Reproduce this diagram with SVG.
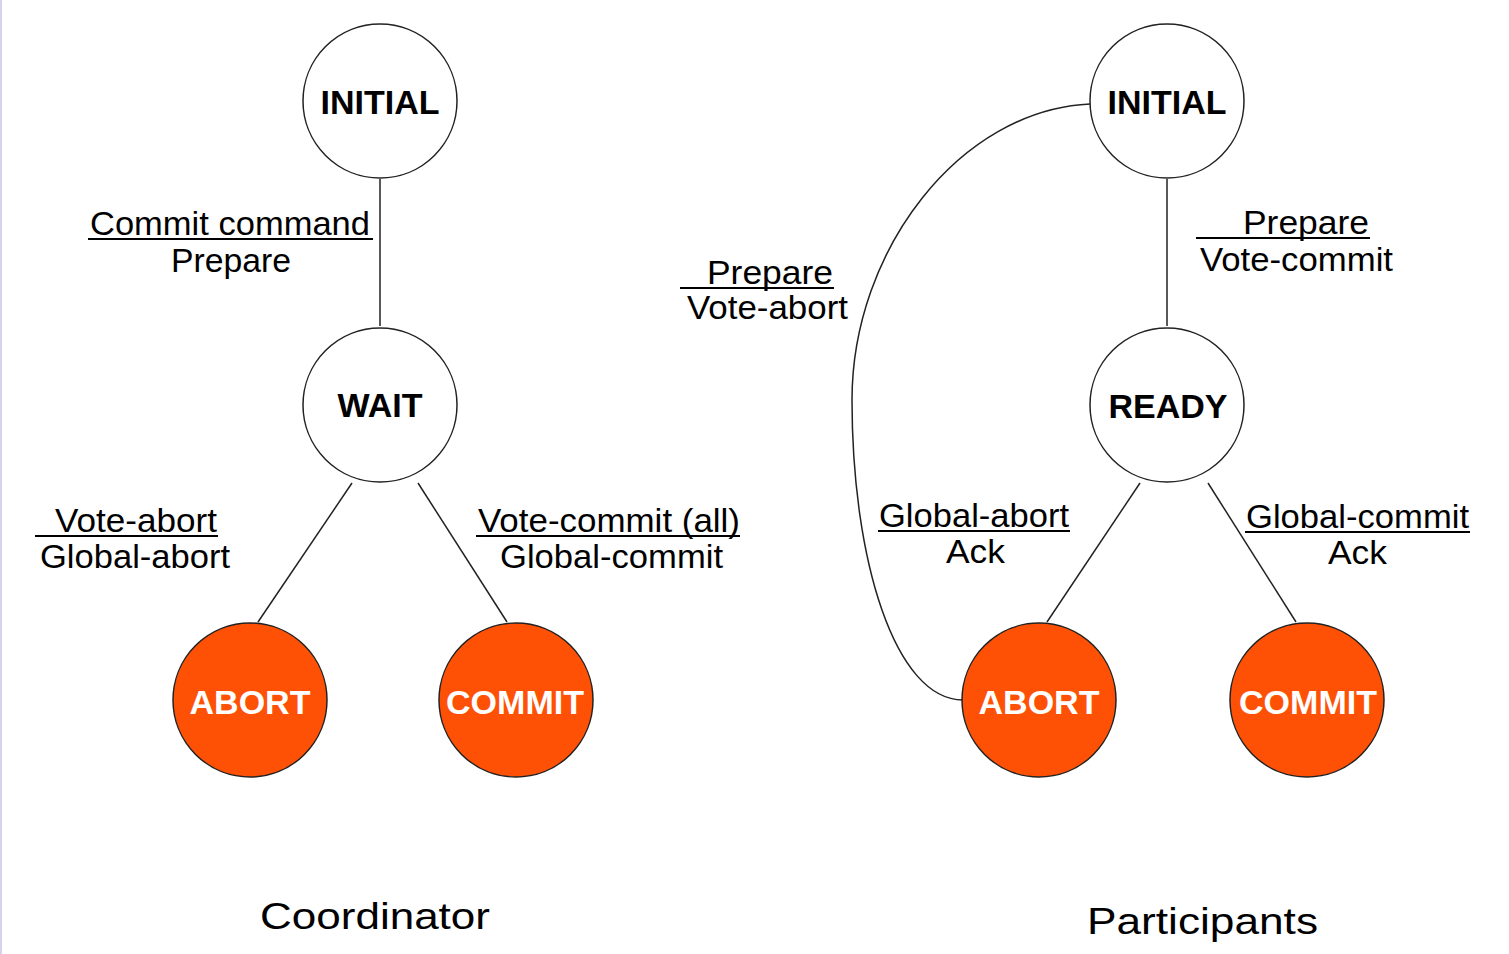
<svg xmlns="http://www.w3.org/2000/svg" width="1509" height="954" viewBox="0 0 1509 954">
<style>
.st{fill:#fff;stroke:#222;stroke-width:1.5}
.fin{fill:#FE5106;stroke:#222;stroke-width:1.5}
.nt{font-family:"Liberation Sans",Arial,sans-serif;font-weight:bold;font-size:34px;text-anchor:middle;fill:#000}
.ft{font-family:"Liberation Sans",Arial,sans-serif;font-weight:bold;font-size:34px;text-anchor:middle;fill:#fff}
.lb{font-family:"Liberation Sans",Arial,sans-serif;font-size:33px;fill:#000}
.tt{font-family:"Liberation Sans",Arial,sans-serif;font-size:37px;fill:#000}
.ul{stroke:#000;stroke-width:2}
.cn{fill:none;stroke:#222;stroke-width:1.5}
</style>
<rect x="0" y="0" width="1509" height="954" fill="#fff"/>
<rect x="0" y="0" width="2" height="954" fill="#d4d4ee"/>
<g id="connectors">
<line class="cn" x1="380" y1="179" x2="380" y2="326"/>
<line class="cn" x1="352" y1="483" x2="258" y2="622"/>
<line class="cn" x1="418" y1="483" x2="507" y2="622"/>
<line class="cn" x1="1167" y1="179" x2="1167" y2="326"/>
<line class="cn" x1="1140" y1="483" x2="1047" y2="622"/>
<line class="cn" x1="1208" y1="483" x2="1296" y2="622"/>
<path class="cn" d="M1090,104 C960,110 852,250 852,400 C852,560 895,700 963,700"/>
</g>
<g id="labels">
<text class="lb" x="90" y="235" textLength="280" lengthAdjust="spacingAndGlyphs">Commit command</text>
<line class="ul" x1="88" y1="239" x2="373" y2="239"/>
<text class="lb" x="171" y="272" textLength="120" lengthAdjust="spacingAndGlyphs">Prepare</text>
<text class="lb" x="55" y="532" textLength="162" lengthAdjust="spacingAndGlyphs">Vote-abort</text>
<line class="ul" x1="35" y1="536" x2="218" y2="536"/>
<text class="lb" x="40" y="568" textLength="190" lengthAdjust="spacingAndGlyphs">Global-abort</text>
<text class="lb" x="478" y="532" textLength="262" lengthAdjust="spacingAndGlyphs">Vote-commit (all)</text>
<line class="ul" x1="476" y1="536" x2="740" y2="536"/>
<text class="lb" x="500" y="568" textLength="223" lengthAdjust="spacingAndGlyphs">Global-commit</text>
<text class="lb" x="707" y="284" textLength="126" lengthAdjust="spacingAndGlyphs">Prepare</text>
<line class="ul" x1="680" y1="288" x2="834" y2="288"/>
<text class="lb" x="687" y="319" textLength="161" lengthAdjust="spacingAndGlyphs">Vote-abort</text>
<text class="lb" x="1243" y="234" textLength="126" lengthAdjust="spacingAndGlyphs">Prepare</text>
<line class="ul" x1="1196" y1="238" x2="1370" y2="238"/>
<text class="lb" x="1200" y="271" textLength="193" lengthAdjust="spacingAndGlyphs">Vote-commit</text>
<text class="lb" x="879" y="527" textLength="190" lengthAdjust="spacingAndGlyphs">Global-abort</text>
<line class="ul" x1="878" y1="531" x2="1070" y2="531"/>
<text class="lb" x="946" y="563" textLength="59" lengthAdjust="spacingAndGlyphs">Ack</text>
<text class="lb" x="1246" y="528" textLength="223" lengthAdjust="spacingAndGlyphs">Global-commit</text>
<line class="ul" x1="1245" y1="532" x2="1470" y2="532"/>
<text class="lb" x="1328" y="564" textLength="59" lengthAdjust="spacingAndGlyphs">Ack</text>
<text class="tt" x="260" y="929" textLength="230" lengthAdjust="spacingAndGlyphs">Coordinator</text>
<text class="tt" x="1087" y="934" textLength="231" lengthAdjust="spacingAndGlyphs">Participants</text>
</g>
<g id="c-initial"><circle class="st" cx="380" cy="101" r="77"/><text class="nt" x="380" y="114">INITIAL</text></g>
<g id="c-wait"><circle class="st" cx="380" cy="405" r="77"/><text class="nt" x="380" y="417">WAIT</text></g>
<g id="c-abort"><circle class="fin" cx="250" cy="700" r="77"/><text class="ft" x="250" y="714">ABORT</text></g>
<g id="c-commit"><circle class="fin" cx="516" cy="700" r="77"/><text class="ft" x="515" y="714">COMMIT</text></g>
<g id="p-initial"><circle class="st" cx="1167" cy="101" r="77"/><text class="nt" x="1167" y="114">INITIAL</text></g>
<g id="p-ready"><circle class="st" cx="1167" cy="405" r="77"/><text class="nt" x="1168" y="418">READY</text></g>
<g id="p-abort"><circle class="fin" cx="1039" cy="700" r="77"/><text class="ft" x="1039" y="714">ABORT</text></g>
<g id="p-commit"><circle class="fin" cx="1307" cy="700" r="77"/><text class="ft" x="1308" y="714">COMMIT</text></g>
</svg>
